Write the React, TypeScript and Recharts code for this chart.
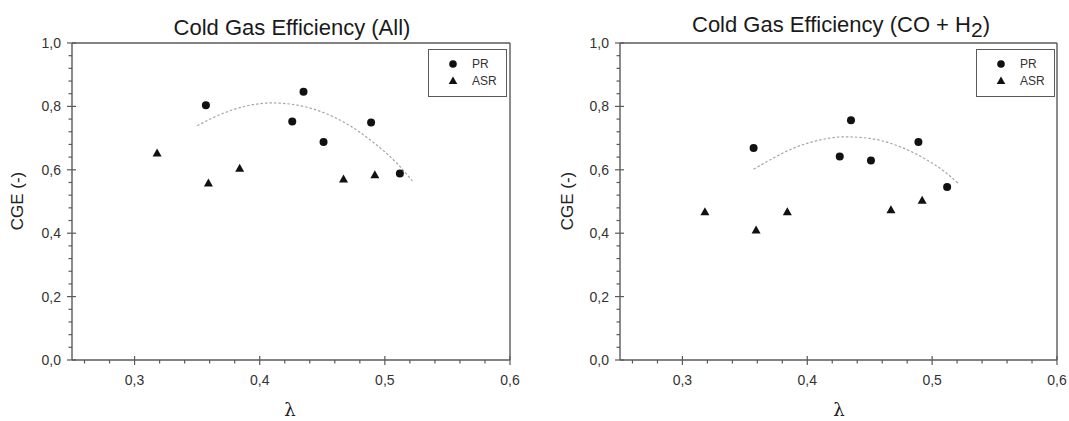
import React from "react";
import { ScatterChart, Scatter, XAxis, YAxis, ReferenceLine } from "recharts";

// axis ticks
const xMajorTicks = [0.3, 0.4, 0.5, 0.6];
const xMinorTicks = [0.26, 0.28, 0.32, 0.34, 0.36, 0.38, 0.42, 0.44, 0.46, 0.48, 0.52, 0.54, 0.56, 0.58];
const yMajorTicks = [0, 0.2, 0.4, 0.6, 0.8, 1.0];
const yMinorTicks = [
  0.04, 0.08, 0.12, 0.16, 0.24, 0.28, 0.32, 0.36, 0.44, 0.48,
  0.52, 0.56, 0.64, 0.68, 0.72, 0.76, 0.84, 0.88, 0.92, 0.96,
];

// measured points (lambda, CGE)
const prLambda = [0.357, 0.426, 0.435, 0.451, 0.489, 0.512];
const asrLambda = [0.318, 0.359, 0.384, 0.467, 0.492];

const prCgeAll = [0.804, 0.752, 0.846, 0.688, 0.749, 0.588];
const asrCgeAll = [0.653, 0.558, 0.605, 0.571, 0.584];

const prCgeSyngas = [0.669, 0.642, 0.756, 0.629, 0.688, 0.546];
const asrCgeSyngas = [0.468, 0.41, 0.468, 0.474, 0.504];

// dotted trend curves
const fitLambdaAll = [0.35, 0.37, 0.39, 0.41, 0.43, 0.45, 0.47, 0.49, 0.51, 0.522];
const fitCgeAll = [0.739, 0.777, 0.802, 0.811, 0.804, 0.782, 0.744, 0.689, 0.619, 0.565];

const fitLambdaSyngas = [0.357, 0.37, 0.39, 0.41, 0.43, 0.45, 0.47, 0.49, 0.51, 0.521];
const fitCgeSyngas = [0.602, 0.631, 0.67, 0.694, 0.704, 0.699, 0.679, 0.644, 0.594, 0.557];

const AXIS = "#5a5a5a";
const INK = "#111";
const TEXT = "#333";
const FONT = '"Liberation Sans", Arial, sans-serif';

const pts = (xs: number[], ys: number[]) => xs.map((x, i) => ({ x, y: ys[i] }));
const comma = (v: number) => v.toFixed(1).replace(".", ",");

const xTicks = [...xMajorTicks, ...xMinorTicks].sort((a, b) => a - b);
const yTicks = [...yMajorTicks, ...yMinorTicks].sort((a, b) => a - b);

function XTick(props: any) {
  const { x, y, payload } = props;
  const major = xMajorTicks.includes(payload.value);
  return (
    <g>
      <line x1={x} x2={x} y1={y - (major ? 4 : 0)} y2={y + (major ? 5 : 3.5)} stroke={AXIS} strokeWidth={1.2} />
      {major && (
        <text x={x} y={y + 20} textAnchor="middle" dominantBaseline="central" fontSize={14} fill={TEXT} fontFamily={FONT}>
          {comma(payload.value)}
        </text>
      )}
    </g>
  );
}

function YTick(props: any) {
  const { x, y, payload } = props;
  const major = yMajorTicks.includes(payload.value);
  return (
    <g>
      <line x1={x - (major ? 5 : 3.5)} x2={x + (major ? 4 : 0)} y1={y} y2={y} stroke={AXIS} strokeWidth={1.2} />
      {major && (
        <text x={x - 11} y={y} textAnchor="end" dominantBaseline="central" fontSize={14} fill={TEXT} fontFamily={FONT}>
          {comma(payload.value)}
        </text>
      )}
    </g>
  );
}

const Dot = (p: any) => <circle cx={p.cx} cy={p.cy} r={4} fill={INK} />;
const Tri = (p: any) => (
  <polygon
    points={`${p.cx},${p.cy - 4.5} ${p.cx + 4.5},${p.cy + 3.5} ${p.cx - 4.5},${p.cy + 3.5}`}
    fill={INK}
  />
);
const NoMark = () => <g />;

function Panel({ left, width, marginLeft, marginRight, pr, asr, fit }: any) {
  return (
    <div style={{ position: "absolute", left, top: 0 }}>
      <ScatterChart
        width={width}
        height={421}
        margin={{ top: 43, right: marginRight, bottom: 21, left: marginLeft }}
      >
        <XAxis
          type="number"
          dataKey="x"
          domain={[0.25, 0.6]}
          ticks={xTicks}
          interval={0}
          tickSize={0}
          tickMargin={0}
          tickLine={false}
          tick={<XTick />}
          height={40}
          axisLine={{ stroke: AXIS, strokeWidth: 1.4 }}
          allowDataOverflow
        />
        <YAxis
          type="number"
          dataKey="y"
          domain={[0, 1]}
          ticks={yTicks}
          interval={0}
          tickSize={0}
          tickMargin={0}
          tickLine={false}
          tick={<YTick />}
          width={72}
          axisLine={{ stroke: AXIS, strokeWidth: 1.4 }}
          allowDataOverflow
        />
        <ReferenceLine y={1} stroke={AXIS} strokeWidth={1.4} />
        <ReferenceLine x={0.6} stroke={AXIS} strokeWidth={1.4} />
        <Scatter
          data={fit}
          line={{ stroke: "#a6a6a6", strokeWidth: 1.2, strokeDasharray: "2.5 2" }}
          lineJointType="monotoneX"
          shape={NoMark}
          isAnimationActive={false}
        />
        <Scatter data={pr} shape={Dot} isAnimationActive={false} />
        <Scatter data={asr} shape={Tri} isAnimationActive={false} />
      </ScatterChart>
    </div>
  );
}

function LegendBox({ left }: { left: number }) {
  return (
    <div
      style={{
        position: "absolute",
        left,
        top: 49,
        width: 77,
        height: 46,
        border: `1.3px solid ${AXIS}`,
        fontFamily: FONT,
        fontSize: 12,
        color: TEXT,
      }}
    >
      <svg width={77} height={46} style={{ position: "absolute", left: 0, top: 0 }}>
        <circle cx={24} cy={14} r={3.8} fill={INK} />
        <polygon points="24,26.5 28.3,34 19.7,34" fill={INK} />
      </svg>
      <div style={{ position: "absolute", left: 43, top: 6, lineHeight: "16px" }}>PR</div>
      <div style={{ position: "absolute", left: 43, top: 23, lineHeight: "16px" }}>ASR</div>
    </div>
  );
}

const titleStyle = (cx: number, top: number): React.CSSProperties => ({
  position: "absolute",
  left: cx - 200,
  top,
  width: 400,
  textAlign: "center",
  fontFamily: FONT,
  fontSize: 22,
  lineHeight: 1,
  color: "#1a1a1a",
  whiteSpace: "nowrap",
});

const yLabelStyle = (cx: number): React.CSSProperties => ({
  position: "absolute",
  left: cx - 50,
  top: 191,
  width: 100,
  height: 20,
  lineHeight: "20px",
  textAlign: "center",
  transform: "rotate(-90deg)",
  fontFamily: FONT,
  fontSize: 17,
  color: "#222",
});

const xLabelStyle = (cx: number): React.CSSProperties => ({
  position: "absolute",
  left: cx - 20,
  top: 399,
  width: 40,
  height: 21,
  lineHeight: "21px",
  textAlign: "center",
  fontFamily: '"DejaVu Serif", "Liberation Serif", serif',
  fontSize: 18,
  color: "#222",
});

export default function App() {
  return (
    <div
      style={{
        position: "absolute",
        left: 0,
        top: 0,
        width: 1069,
        height: 421,
        background: "#fff",
        overflow: "hidden",
      }}
    >
      <Panel
        left={0}
        width={534}
        marginLeft={0}
        marginRight={24}
        pr={pts(prLambda, prCgeAll)}
        asr={pts(asrLambda, asrCgeAll)}
        fit={pts(fitLambdaAll, fitCgeAll)}
      />
      <Panel
        left={534}
        width={535}
        marginLeft={14}
        marginRight={12}
        pr={pts(prLambda, prCgeSyngas)}
        asr={pts(asrLambda, asrCgeSyngas)}
        fit={pts(fitLambdaSyngas, fitCgeSyngas)}
      />

      <div style={titleStyle(292, 17)}>Cold Gas Efficiency (All)</div>
      <div style={titleStyle(841, 14)}>
        Cold Gas Efficiency (CO + H
        <span style={{ position: "relative", top: 5, fontSize: 21 }}>2</span>)
      </div>

      <div style={yLabelStyle(18)}>CGE (-)</div>
      <div style={yLabelStyle(568)}>CGE (-)</div>

      <div style={xLabelStyle(290)}>λ</div>
      <div style={xLabelStyle(839)}>λ</div>

      <LegendBox left={428} />
      <LegendBox left={976} />
    </div>
  );
}
